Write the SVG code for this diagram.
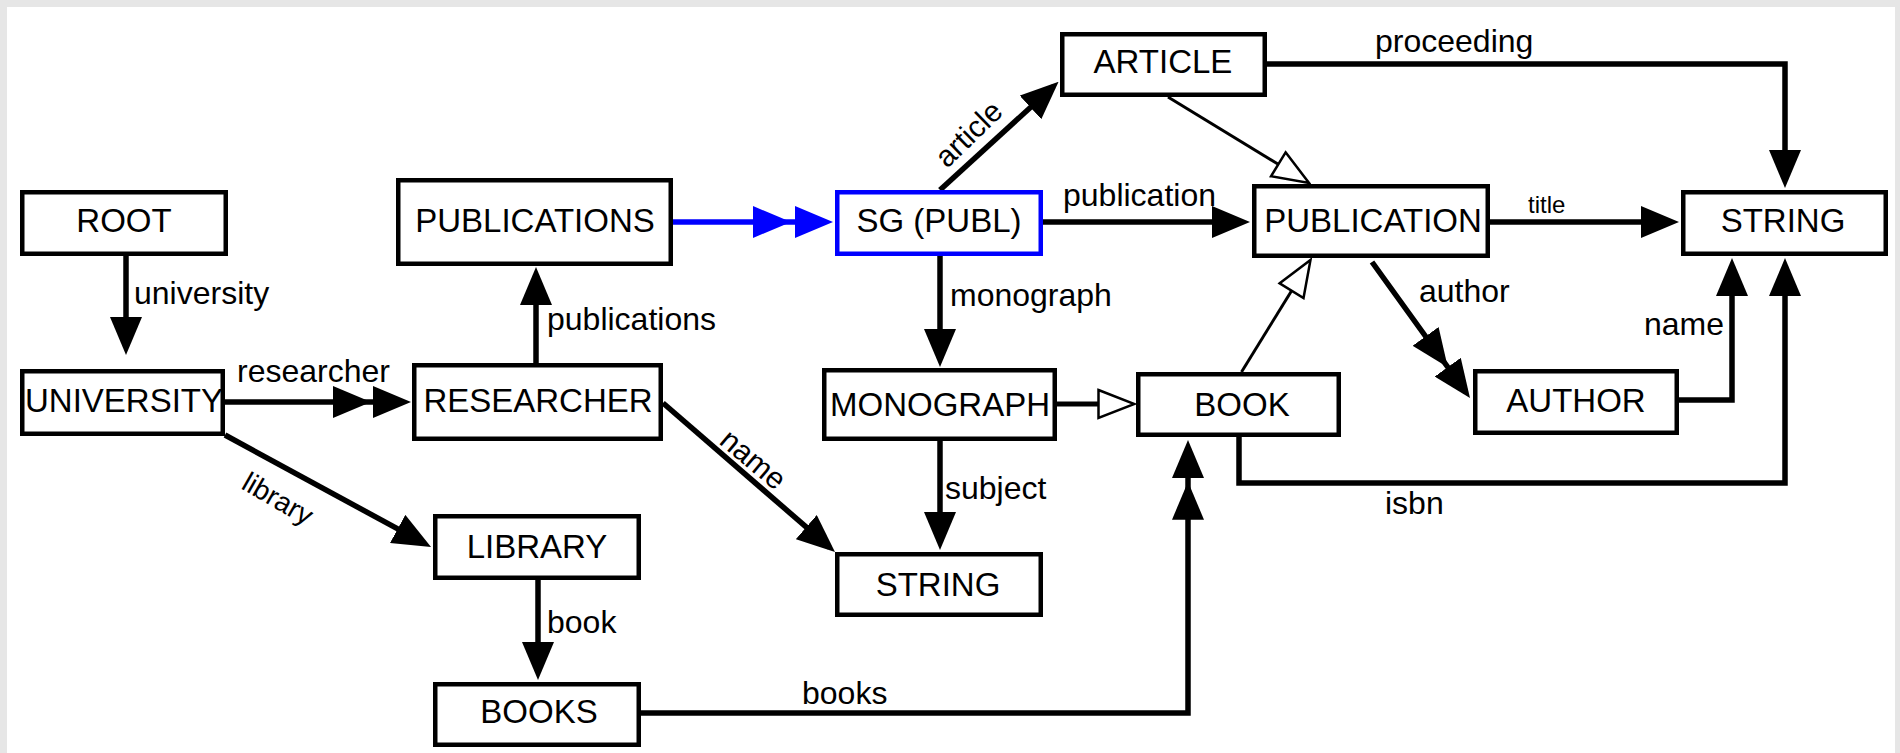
<svg xmlns="http://www.w3.org/2000/svg" width="1900" height="753" viewBox="0 0 1900 753">
<style>
.box{fill:#fff;stroke:#000;stroke-width:4.5}
.sel{fill:#fff;stroke:#0000ff;stroke-width:4.5}
.nt{font-family:"Liberation Sans",Arial,sans-serif;font-size:33px;fill:#000;text-anchor:middle}
.lb{font-family:"Liberation Sans",Arial,sans-serif;font-size:32px;fill:#000}
.e{fill:none;stroke:#000;stroke-width:5.5;marker-end:url(#arr)}
.e2{fill:none;stroke:#000;stroke-width:5.5;marker-mid:url(#arr);marker-end:url(#arr)}
.eb{fill:none;stroke:#0000ff;stroke-width:5.5;marker-mid:url(#arrb);marker-end:url(#arrb)}
.inh{fill:none;stroke:#000;stroke-width:3;marker-end:url(#tri)}
</style>
<defs>
<marker id="arr" markerUnits="userSpaceOnUse" viewBox="0 0 38 32" refX="31" refY="16" markerWidth="38" markerHeight="32" orient="auto"><path d="M0,0 L38,16 L0,32 Z" fill="#000"/></marker>
<marker id="arrb" markerUnits="userSpaceOnUse" viewBox="0 0 38 32" refX="31" refY="16" markerWidth="38" markerHeight="32" orient="auto"><path d="M0,0 L38,16 L0,32 Z" fill="#0000ff"/></marker>
<marker id="tri" markerUnits="userSpaceOnUse" viewBox="-2 -2 40 32" refX="0" refY="14" markerWidth="40" markerHeight="32" orient="auto"><path d="M0,0 L36,14 L0,28 Z" fill="#fff" stroke="#000" stroke-width="2.5"/></marker>
</defs>
<rect x="0" y="0" width="1900" height="753" fill="#e6e6e6"/>
<rect x="7" y="7" width="1888" height="746" fill="#fff"/>

<g id="connectors">
<path class="e" d="M126,256 V348"/>
<path class="e2" d="M225,402 H364 H404"/>
<path class="e" d="M536,363 V274"/>
<path class="eb" d="M673,222 H784 H826"/>
<path class="e" d="M940,190 L1053.4,86.5"/>
<path class="e" d="M1043,222 H1243"/>
<path class="e" d="M940,256 V360"/>
<path class="e" d="M940,441 V543"/>
<path class="e" d="M663,403 L829.7,547.4"/>
<path class="e" d="M225,435 L424.9,543.7"/>
<path class="e" d="M538,580 V673"/>
<path class="e" d="M641,713 H1188 V488.7"/>
<path class="e" d="M1188,489 V447"/>
<path class="e" d="M1267,64 H1785 V181"/>
<path class="e" d="M1490,222 H1672"/>
<path class="e2" d="M1372,262 L1443.7,361.5 L1465.9,392.3"/>
<path class="e" d="M1679,400 H1732 V265"/>
<path class="e" d="M1239,437 V483 H1785 V265"/>
<path class="inh" d="M1168,97 L1278.3,164.3"/>
<path class="inh" d="M1241.5,372 L1291.6,290.7"/>
<path class="inh" style="stroke-width:5" d="M1057,404 H1098.5"/>
<text class="lb" x="134" y="304">university</text>
<text class="lb" x="237" y="382">researcher</text>
<text class="lb" x="547" y="330">publications</text>
<text class="lb" style="font-size:28px" transform="translate(240,488) rotate(30)">library</text>
<text class="lb" x="547" y="633">book</text>
<text class="lb" style="font-size:30px" transform="translate(947,169) rotate(-44)">article</text>
<text class="lb" x="1063" y="206">publication</text>
<text class="lb" x="950" y="306">monograph</text>
<text class="lb" x="945" y="499">subject</text>
<text class="lb" style="font-size:30px" transform="translate(718,443) rotate(40)">name</text>
<text class="lb" x="802" y="704">books</text>
<text class="lb" x="1375" y="52">proceeding</text>
<text class="lb" style="font-size:24px" x="1528" y="213">title</text>
<text class="lb" x="1419" y="302">author</text>
<text class="lb" x="1644" y="335">name</text>
<text class="lb" x="1385" y="514">isbn</text>
</g>

<g id="root"><rect class="box" x="22.25" y="192.25" width="203.5" height="61.5"/><text class="nt" x="124" y="232">ROOT</text></g>
<g id="university"><rect class="box" x="22.25" y="371.25" width="200.5" height="62.5"/><text class="nt" x="124" y="412">UNIVERSITY</text></g>
<g id="researcher"><rect class="box" x="414.25" y="365.25" width="246.5" height="73.5"/><text class="nt" x="538" y="412">RESEARCHER</text></g>
<g id="publications"><rect class="box" x="398.25" y="180.25" width="272.5" height="83.5"/><text class="nt" x="535" y="232">PUBLICATIONS</text></g>
<g id="library"><rect class="box" x="435.25" y="516.25" width="203.5" height="61.5"/><text class="nt" x="537" y="558">LIBRARY</text></g>
<g id="books"><rect class="box" x="435.25" y="684.25" width="203.5" height="60.5"/><text class="nt" x="539" y="723">BOOKS</text></g>
<g id="sg-publ"><rect class="sel" x="837.25" y="192.25" width="203.5" height="61.5"/><text class="nt" x="939" y="232">SG (PUBL)</text></g>
<g id="article"><rect class="box" x="1062.25" y="34.25" width="202.5" height="60.5"/><text class="nt" x="1163" y="73">ARTICLE</text></g>
<g id="monograph"><rect class="box" x="824.25" y="370.25" width="230.5" height="68.5"/><text class="nt" x="940" y="416">MONOGRAPH</text></g>
<g id="book"><rect class="box" x="1138.25" y="374.25" width="200.5" height="60.5"/><text class="nt" x="1242" y="416">BOOK</text></g>
<g id="string-subject"><rect class="box" x="837.25" y="554.25" width="203.5" height="60.5"/><text class="nt" x="938" y="596">STRING</text></g>
<g id="publication"><rect class="box" x="1254.25" y="186.25" width="233.5" height="69.5"/><text class="nt" x="1373" y="232">PUBLICATION</text></g>
<g id="string"><rect class="box" x="1683.25" y="192.25" width="202.5" height="61.5"/><text class="nt" x="1783" y="232">STRING</text></g>
<g id="author"><rect class="box" x="1475.25" y="371.25" width="201.5" height="61.5"/><text class="nt" x="1576" y="412">AUTHOR</text></g>
</svg>
